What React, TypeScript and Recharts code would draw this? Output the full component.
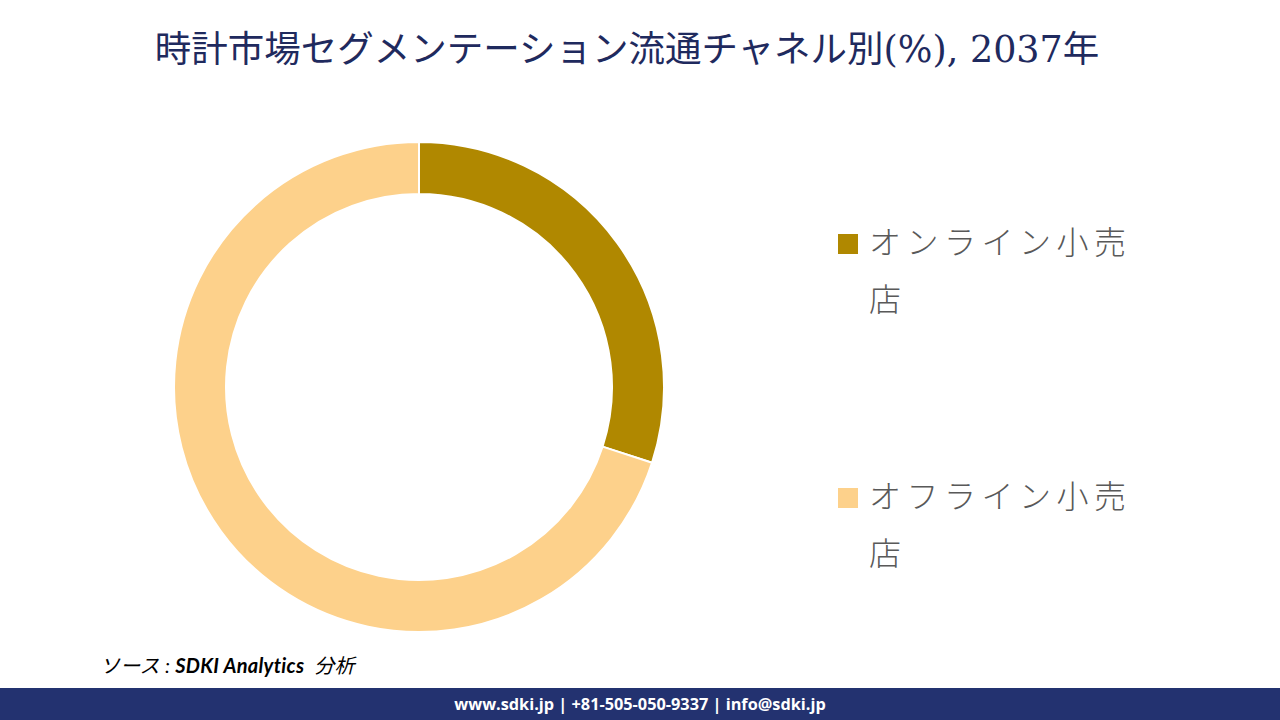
import { Cell, Pie, PieChart } from "recharts";

const channels = ["オンライン小売店", "オフライン小売店"];
const shares = [30, 70];
const colors = ["#B08800", "#FDD18B"];

const data = channels.map((name, i) => ({ name, value: shares[i] }));

function LegendItem({ label, color, top }: { label: string; color: string; top: number }) {
  return (
    <div style={{ position: "absolute", left: 838, top, width: 300 }}>
      <div
        style={{
          position: "absolute",
          left: 0,
          top: 0,
          width: 20,
          height: 20,
          background: color,
        }}
      />
      <div
        style={{
          position: "absolute",
          left: 31,
          top: -22,
          width: 280,
          fontFamily: "'Noto Sans CJK JP', sans-serif",
          fontSize: 32,
          fontWeight: 300,
          letterSpacing: 5.5,
          lineHeight: "57px",
          color: "#595959",
        }}
      >
        {label}
      </div>
    </div>
  );
}

export default function App() {
  return (
    <div
      style={{
        position: "absolute",
        left: 0,
        top: 0,
        width: 1280,
        height: 720,
        background: "#fff",
        overflow: "hidden",
      }}
    >
      <div
        style={{
          position: "absolute",
          left: 0,
          top: 24,
          width: 1254,
          textAlign: "center",
          fontFamily: "'DejaVu Serif', 'Noto Sans CJK JP', serif",
          fontSize: 36.5,
          color: "#1F2A5E",
          lineHeight: "52px",
        }}
      >
        時計市場セグメンテーション流通チャネル別(%), 2037年
      </div>

      <div style={{ position: "absolute", left: 0, top: 0 }}>
        <PieChart width={840} height={680} margin={{ top: 0, right: 0, bottom: 0, left: 0 }}>
          <Pie
            data={data}
            dataKey="value"
            nameKey="name"
            cx={419}
            cy={387}
            innerRadius={193}
            outerRadius={245}
            startAngle={90}
            endAngle={-270}
            stroke="#ffffff"
            strokeWidth={2}
            isAnimationActive={false}
          >
            {data.map((d, i) => (
              <Cell key={d.name} fill={colors[i]} />
            ))}
          </Pie>
        </PieChart>
      </div>

      {data.map((d, i) => (
        <LegendItem key={d.name} label={d.name} color={colors[i]} top={i === 0 ? 234 : 488} />
      ))}

      <div
        style={{
          position: "absolute",
          left: 100,
          top: 650,
          fontFamily: "Lato, 'Noto Sans CJK JP', sans-serif",
          fontStyle: "italic",
          fontSize: 20,
          letterSpacing: 0.3,
          color: "#000",
        }}
      >
        ソース&nbsp;: <b>SDKI Analytics</b>&nbsp; 分析
      </div>

      <div
        style={{
          position: "absolute",
          left: 0,
          top: 688,
          width: 1280,
          height: 32,
          background: "#233270",
          color: "#fff",
          textAlign: "center",
          fontFamily: "'Open Sans', sans-serif",
          fontWeight: 700,
          fontSize: 16.3,
          lineHeight: "32px",
        }}
      >
        www.sdki.jp | +81-505-050-9337 | info@sdki.jp
      </div>
    </div>
  );
}
